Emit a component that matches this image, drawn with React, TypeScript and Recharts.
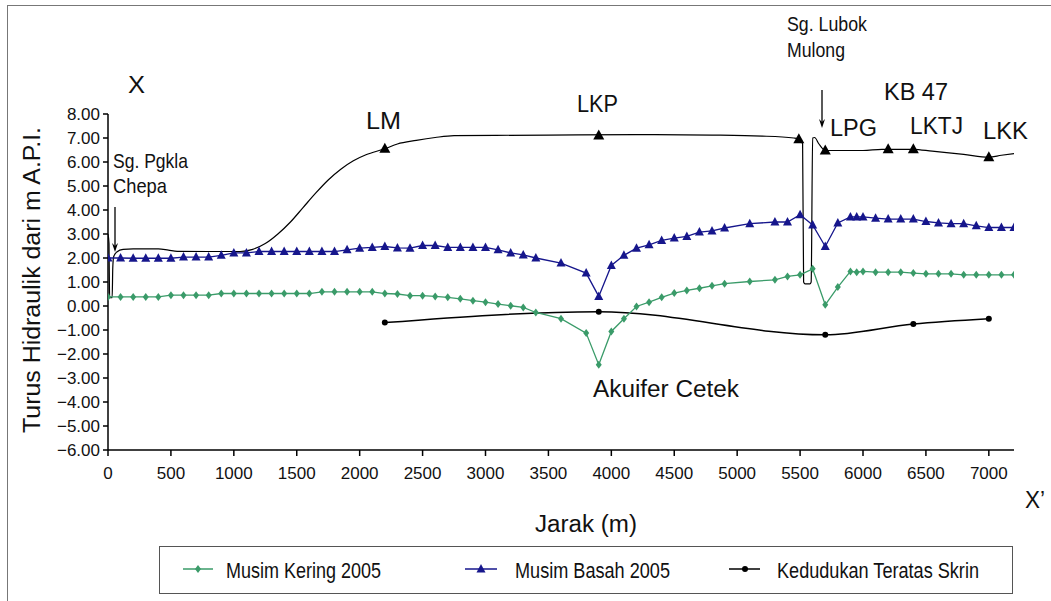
import React from 'react';
import { LineChart, Line, XAxis, YAxis } from 'recharts';

// Musim Kering 2005 (green)
const keringX = [0, 100, 200, 300, 400, 500, 600, 700, 800, 900, 1000, 1100, 1200, 1300, 1400, 1500, 1600, 1700, 1800, 1900, 2000, 2100, 2200, 2300, 2400, 2500, 2600, 2700, 2800, 2900, 3000, 3100, 3200, 3300, 3400, 3600, 3800, 3900, 4000, 4100, 4200, 4300, 4400, 4500, 4600, 4700, 4800, 4900, 5100, 5300, 5400, 5500, 5600, 5700, 5800, 5900, 5950, 6000, 6100, 6200, 6300, 6400, 6500, 6600, 6700, 6800, 6900, 7000, 7100, 7200];
const keringY = [0.38, 0.38, 0.38, 0.38, 0.38, 0.45, 0.45, 0.45, 0.45, 0.52, 0.52, 0.52, 0.52, 0.52, 0.52, 0.52, 0.52, 0.59, 0.59, 0.59, 0.59, 0.59, 0.52, 0.5, 0.43, 0.43, 0.4, 0.36, 0.3, 0.22, 0.16, 0.08, 0.01, -0.06, -0.27, -0.53, -1.13, -2.45, -1.06, -0.53, -0.02, 0.16, 0.36, 0.54, 0.65, 0.74, 0.84, 0.93, 1.02, 1.09, 1.23, 1.3, 1.55, 0.05, 0.79, 1.44, 1.41, 1.44, 1.41, 1.41, 1.41, 1.37, 1.34, 1.34, 1.34, 1.3, 1.3, 1.3, 1.3, 1.3];

// Musim Basah 2005 (blue)
const basahX = keringX;
const basahY = [2.0, 2.0, 1.99, 1.99, 1.99, 1.99, 2.04, 2.04, 2.04, 2.11, 2.21, 2.21, 2.27, 2.27, 2.27, 2.27, 2.27, 2.27, 2.27, 2.34, 2.41, 2.44, 2.48, 2.42, 2.41, 2.52, 2.52, 2.44, 2.44, 2.44, 2.44, 2.34, 2.21, 2.13, 2.0, 1.79, 1.37, 0.4, 1.69, 2.11, 2.41, 2.55, 2.73, 2.83, 2.9, 3.08, 3.13, 3.25, 3.43, 3.5, 3.5, 3.8, 3.38, 2.48, 3.46, 3.71, 3.71, 3.71, 3.66, 3.62, 3.62, 3.62, 3.52, 3.46, 3.43, 3.43, 3.34, 3.27, 3.27, 3.27];

// Kedudukan Teratas Skrin (black)
const skrinX = [2200, 3900, 5700, 6400, 7000];
const skrinY = [-0.69, -0.24, -1.2, -0.75, -0.53];

// ground / hydraulic head profile (black, unmarked line)
const groundX = [0, 8, 10, 13, 33, 38, 45, 70, 120, 200, 400, 480, 550, 800, 1050, 1150, 1250, 1350, 1450, 1550, 1650, 1750, 1850, 1950, 2050, 2200, 2300, 2450, 2600, 2750, 3500, 4200, 4800, 5200, 5450, 5500, 5520, 5528, 5540, 5578, 5588, 5600, 5615, 5650, 5700, 6000, 6150, 6400, 6550, 6800, 7000, 7100, 7200];
const groundY = [3.0, 2.6, 1.5, 0.35, 0.35, 1.6, 2.05, 2.25, 2.36, 2.38, 2.38, 2.33, 2.28, 2.27, 2.27, 2.36, 2.6, 3.0, 3.5, 4.1, 4.7, 5.25, 5.7, 6.05, 6.3, 6.55, 6.75, 6.9, 7.02, 7.1, 7.12, 7.14, 7.12, 7.08, 7.0, 6.95, 6.75, 1.0, 0.92, 0.92, 1.0, 7.0, 7.02, 6.75, 6.48, 6.48, 6.53, 6.53, 6.45, 6.32, 6.2, 6.28, 6.35];

// wells on the profile (LM, LKP, -, LPG, KB 47, LKTJ, LKK)
const wellX = [2200, 3900, 5490, 5700, 6200, 6400, 7000];
const wellY = [6.55, 7.1, 6.95, 6.48, 6.53, 6.53, 6.2];

const xTicks = [0, 500, 1000, 1500, 2000, 2500, 3000, 3500, 4000, 4500, 5000, 5500, 6000, 6500, 7000];
const yTicks = [-6, -5, -4, -3, -2, -1, 0, 1, 2, 3, 4, 5, 6, 7, 8];

const rows = (xs: number[], ys: number[]) => xs.map((x, i) => ({ x, y: ys[i] }));

const GREEN = '#3a9b69';
const BLUE = '#16168c';
const FONT = '"Liberation Sans", Arial, sans-serif';

const diamond = (props: any) => {
  const { cx, cy, index } = props;
  if (cx == null || cy == null) return <g key={`d${index}`} />;
  return <path key={`d${index}`} d={`M${cx},${cy - 4}L${cx + 3},${cy}L${cx},${cy + 4}L${cx - 3},${cy}Z`} fill={GREEN} />;
};

const blueTri = (props: any) => {
  const { cx, cy, index } = props;
  if (cx == null || cy == null) return <g key={`b${index}`} />;
  return <path key={`b${index}`} d={`M${cx},${cy - 5}L${cx + 4.5},${cy + 3.5}L${cx - 4.5},${cy + 3.5}Z`} fill={BLUE} />;
};

const blackTri = (props: any) => {
  const { cx, cy, index } = props;
  if (cx == null || cy == null) return <g key={`k${index}`} />;
  return <path key={`k${index}`} d={`M${cx},${cy - 6}L${cx + 5.5},${cy + 4}L${cx - 5.5},${cy + 4}Z`} fill="#000" />;
};

const dotBlack = (props: any) => {
  const { cx, cy, index } = props;
  if (cx == null || cy == null) return <g key={`c${index}`} />;
  return <circle key={`c${index}`} cx={cx} cy={cy} r={3} fill="#000" />;
};

const fmtY = (v: number) => (v < 0 ? '\u2212' + Math.abs(v).toFixed(2) : v.toFixed(2));

const Label = ({ x, y, w, size = 23, children }: any) => (
  <text x={x} y={y} fontSize={size} fontFamily={FONT} fill="#111" textLength={w} lengthAdjust="spacingAndGlyphs">
    {children}
  </text>
);

const Arrow = ({ x, y1, y2 }: { x: number; y1: number; y2: number }) => (
  <g>
    <line x1={x} y1={y1} x2={x} y2={y2 - 6} stroke="#000" strokeWidth={1.3} />
    <path d={`M${x - 3},${y2 - 9}L${x},${y2}L${x + 3},${y2 - 9}L${x},${y2 - 6}Z`} fill="#000" />
  </g>
);

export default function App() {
  return (
    <div style={{ position: 'absolute', left: 0, top: 0, width: 1051, height: 601, background: '#fff', fontFamily: FONT }}>
      <div style={{ position: 'absolute', left: 7, top: 5, width: 1060, height: 610, borderLeft: '1px solid #777', borderTop: '1px solid #777' }} />
      <LineChart width={1051} height={601} margin={{ top: 114, right: 37, bottom: 121, left: 48 }}>
        <XAxis
          type="number"
          dataKey="x"
          domain={[0, 7200]}
          ticks={xTicks}
          interval={0}
          allowDataOverflow
          height={30}
          tickSize={6}
          tickMargin={11}
          stroke="#000"
          strokeWidth={1.5}
          tick={{ fill: '#111', fontSize: 17, fontFamily: FONT }}
        />
        <YAxis
          type="number"
          domain={[-6, 8]}
          ticks={yTicks}
          interval={0}
          allowDataOverflow
          width={60}
          tickSize={5}
          tickMargin={3}
          stroke="#000"
          strokeWidth={1.5}
          tickFormatter={fmtY}
          tick={{ fill: '#111', fontSize: 17, fontFamily: FONT }}
        />
        <Line data={rows(groundX, groundY)} dataKey="y" type="monotone" stroke="#000" strokeWidth={1.2} dot={false} isAnimationActive={false} />
        <Line data={rows(wellX, wellY)} dataKey="y" stroke="none" dot={blackTri} isAnimationActive={false} />
        <Line data={rows(skrinX, skrinY)} dataKey="y" type="monotone" stroke="#000" strokeWidth={1.5} dot={dotBlack} isAnimationActive={false} />
        <Line data={rows(basahX, basahY)} dataKey="y" stroke={BLUE} strokeWidth={1.3} dot={blueTri} isAnimationActive={false} />
        <Line data={rows(keringX, keringY)} dataKey="y" stroke={GREEN} strokeWidth={1.3} dot={diamond} isAnimationActive={false} />
      </LineChart>
      <svg width={1051} height={601} style={{ position: 'absolute', left: 0, top: 0, pointerEvents: 'none' }}>
        <text x={32} y={280} fontSize={23} fontFamily={FONT} fill="#111" textAnchor="middle" transform="rotate(-90 32 280)" dy="0.35em" textLength={306} lengthAdjust="spacingAndGlyphs">
          Turus Hidraulik dari m A.P.I.
        </text>
        <Label x={128} y={93} w={17}>X</Label>
        <Label x={113} y={168} w={75} size={21}>Sg. Pgkla</Label>
        <Label x={113} y={193} w={54} size={21}>Chepa</Label>
        <Arrow x={115} y1={207} y2={252} />
        <Label x={366} y={129} w={35}>LM</Label>
        <Label x={577} y={112} w={41}>LKP</Label>
        <Label x={787} y={31} w={80} size={21}>Sg. Lubok</Label>
        <Label x={787} y={57} w={58} size={21}>Mulong</Label>
        <Arrow x={822} y1={90} y2={128} />
        <Label x={884} y={100} w={64}>KB 47</Label>
        <Label x={830} y={136} w={47}>LPG</Label>
        <Label x={910} y={134} w={53}>LKTJ</Label>
        <Label x={983} y={139} w={45}>LKK</Label>
        <Label x={593} y={397} w={146}>Akuifer Cetek</Label>
        <Label x={535} y={532} w={102}>Jarak (m)</Label>
        <Label x={1025} y={508} w={20}>X’</Label>

        <rect x={159.5} y={546.5} width={853} height={47} fill="none" stroke="#555" strokeWidth={1} />
        <line x1={183} y1={569} x2={213} y2={569} stroke={GREEN} strokeWidth={1.5} />
        <path d="M198,565L201,569L198,573L195,569Z" fill={GREEN} />
        <Label x={226} y={578} w={155} size={22}>Musim Kering 2005</Label>
        <line x1={465} y1={569} x2={497} y2={569} stroke={BLUE} strokeWidth={1.5} />
        <path d="M481,564L485.5,572.5L476.5,572.5Z" fill={BLUE} />
        <Label x={515} y={578} w={155} size={22}>Musim Basah 2005</Label>
        <line x1={729} y1={569} x2={760} y2={569} stroke="#000" strokeWidth={1.5} />
        <circle cx={745} cy={569} r={3} fill="#000" />
        <Label x={777} y={578} w={202} size={22}>Kedudukan Teratas Skrin</Label>
      </svg>
    </div>
  );
}
